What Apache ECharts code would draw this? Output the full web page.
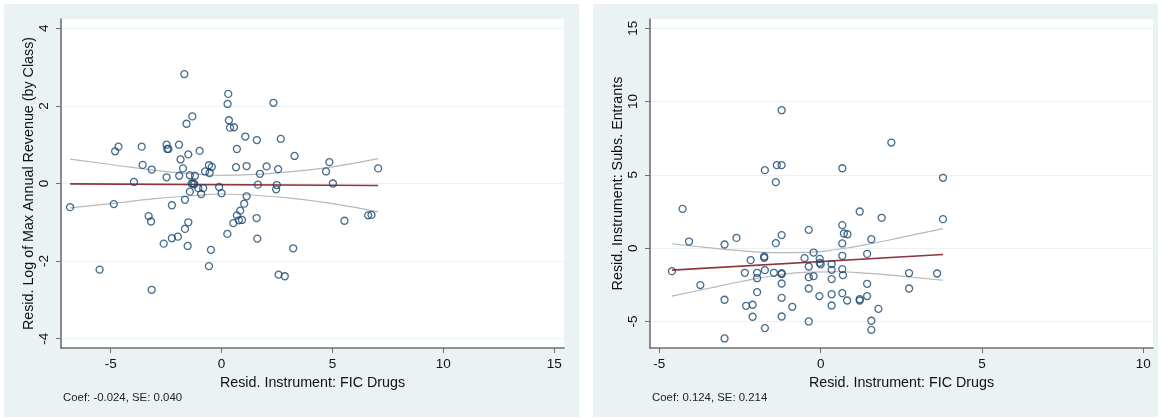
<!DOCTYPE html>
<html>
<head>
<meta charset="utf-8">
<script src="https://cdn.jsdelivr.net/npm/echarts@6/dist/echarts.min.js"></script>
<style>
html,body{margin:0;padding:0;background:#fff;}
#c{width:1161px;height:419px;}
</style>
</head>
<body>
<div id="c"></div>
<script>
// ---------- Left panel data ----------
const leftPoints = [
[-6.83,-0.61],[-1.68,2.82],[0.30,2.31],[0.27,2.05],[2.34,2.08],[-1.32,1.73],[-1.58,1.54],[0.33,1.63],
[0.38,1.44],[0.56,1.45],[1.07,1.21],[1.59,1.12],[2.67,1.15],[-4.65,0.95],[-4.80,0.83],[-3.60,0.95],
[-2.48,1.00],[-2.45,0.89],[-2.40,0.89],[-1.92,1.00],[-0.99,0.84],[-1.50,0.75],[-1.85,0.62],[0.69,0.89],
[3.29,0.71],[-3.56,0.48],[-3.15,0.36],[-1.74,0.39],[-0.57,0.47],[-0.44,0.43],[-0.74,0.31],[-0.54,0.27],
[0.65,0.42],[1.13,0.45],[2.03,0.44],[2.55,0.37],[1.73,0.25],[4.86,0.55],[4.71,0.31],[7.06,0.39],
[-3.95,0.04],[-2.48,0.16],[-1.91,0.20],[-1.43,0.21],[-1.20,0.20],[-1.35,0.00],[-1.28,0.00],[-1.23,-0.02],
[-1.05,-0.12],[-0.83,-0.12],[-1.43,-0.21],[-0.92,-0.27],[-0.11,-0.09],[0.00,-0.25],[1.64,-0.03],[2.49,-0.04],
[2.46,-0.15],[5.02,0.00],[-4.86,-0.53],[-1.65,-0.42],[-2.24,-0.56],[1.13,-0.33],[1.02,-0.52],[0.84,-0.70],
[0.69,-0.82],[0.78,-0.95],[0.92,-0.94],[0.53,-1.02],[1.58,-0.89],[-3.29,-0.84],[-3.18,-0.98],[-1.50,-1.00],
[-1.65,-1.17],[-2.61,-1.55],[-2.24,-1.41],[-1.97,-1.37],[-1.53,-1.61],[-0.48,-1.71],[0.26,-1.30],[1.61,-1.42],
[3.23,-1.67],[5.54,-0.96],[6.61,-0.82],[6.76,-0.81],[-5.50,-2.22],[-0.57,-2.13],[2.57,-2.35],[2.85,-2.39],
[-3.15,-2.74]
];
const leftFitX = [-6.83, 7.06];
const leftFitY = [-0.01, -0.05];
const leftBandX = [-6.83, -5, -3, -1, 0, 1, 3, 5, 7.06];
const leftUpper = [0.63, 0.49, 0.34, 0.24, 0.21, 0.22, 0.30, 0.43, 0.64];
const leftLower = [-0.63, -0.52, -0.39, -0.30, -0.27, -0.29, -0.37, -0.52, -0.73];
const leftXTicks = [-5, 0, 5, 10, 15];
const leftYTicks = [-4, -2, 0, 2, 4];

// ---------- Right panel data ----------
const rightPoints = [
[-1.21,9.41],[2.19,7.20],[-1.36,5.66],[-1.21,5.66],[-1.73,5.32],[0.67,5.45],[3.79,4.80],[-1.39,4.50],
[-4.28,2.68],[1.21,2.50],[1.89,2.07],[3.79,1.98],[-0.37,1.25],[0.67,1.57],[0.72,1.00],[0.83,0.95],
[-1.21,0.89],[-4.08,0.45],[-2.98,0.25],[-2.61,0.70],[-1.39,0.34],[0.67,0.32],[1.57,0.61],[-0.22,-0.30],
[1.44,-0.39],[0.67,-0.52],[-0.50,-0.68],[-2.17,-0.82],[-1.75,-0.57],[-1.75,-0.66],[-0.03,-0.73],[-0.03,-1.00],
[0.00,-1.10],[0.34,-1.09],[0.34,-1.48],[0.67,-1.43],[0.69,-1.84],[-4.61,-1.57],[-2.35,-1.68],[-1.97,-1.68],
[-1.73,-1.50],[-1.97,-2.05],[-1.45,-1.68],[-1.21,-1.70],[-1.21,-1.77],[-0.37,-1.25],[-0.37,-1.98],[-0.22,-1.91],
[0.34,-2.11],[-3.73,-2.52],[-1.21,-2.41],[1.44,-2.43],[2.74,-1.70],[3.61,-1.73],[2.74,-2.75],[-0.37,-2.75],
[-2.98,-3.52],[-1.97,-3.00],[-1.21,-3.39],[-0.04,-3.27],[0.34,-3.14],[0.67,-3.07],[0.82,-3.57],[1.21,-3.48],
[1.21,-3.57],[1.44,-3.27],[-2.31,-3.93],[-2.11,-3.86],[-0.88,-4.00],[0.34,-3.91],[1.79,-4.14],[-2.11,-4.68],
[-1.21,-4.66],[-0.37,-5.00],[1.57,-4.95],[1.57,-5.57],[-1.73,-5.45],[-2.98,-6.16]
];
const rightFitX = [-4.61, 3.79];
const rightFitY = [-1.50, -0.43];
const rightBandX = [-4.61, -3.5, -2.5, -1.5, -0.4, 0.5, 1.5, 2.5, 3.79];
const rightUpper = [0.30, 0.03, -0.17, -0.30, -0.29, -0.09, 0.28, 0.73, 1.33];
const rightLower = [-3.27, -2.75, -2.29, -1.90, -1.63, -1.61, -1.72, -1.91, -2.19];
const rightXTicks = [-5, 0, 5, 10];
const rightYTicks = [-5, 0, 5, 10, 15];

const leftNote = 'Coef: -0.024, SE: 0.040';
const rightNote = 'Coef: 0.124, SE: 0.214';
const xTitle = 'Resid. Instrument: FIC Drugs';
const leftYTitle = 'Resid. Log of Max Annual Revenue (by Class)';
const rightYTitle = 'Resid. Instrument: Subs. Entrants';

// ---------- styles ----------
const FONT = 'Liberation Sans, Arial, Helvetica, sans-serif';
const PANEL = '#eaf2f3';
const AXIS = '#707070';
const NAVY = '#1a476f';
const MAROON = '#90353b';
const GRAYLINE = '#b8b8b8';

function zip(xs, ys){ return xs.map((x,i)=>[x, ys[i]]); }

function xAxisCfg(idx, min, max, ticks){
  return {
    type:'value', gridIndex:idx, min:min, max:max,
    name: xTitle, nameLocation:'middle', nameGap:22,
    nameTextStyle:{fontFamily:FONT, fontSize:14.3, color:'#111'},
    axisLine:{show:true, onZero:false, lineStyle:{color:AXIS, width:1.6}},
    axisTick:{show:true, inside:false, length:5, customValues:ticks, lineStyle:{color:AXIS, width:1}},
    axisLabel:{customValues:ticks, margin:9, fontFamily:FONT, fontSize:13.5, color:'#111'},
    splitLine:{show:false}
  };
}
function yAxisCfg(idx, min, max, ticks, title){
  return {
    type:'value', gridIndex:idx, min:min, max:max,
    name: title, nameLocation:'middle', nameGap:25, nameRotate:90,
    nameTextStyle:{fontFamily:FONT, fontSize:14.3, color:'#111'},
    axisLine:{show:true, onZero:false, lineStyle:{color:AXIS, width:1.6}},
    axisTick:{show:true, inside:false, length:5, customValues:ticks, lineStyle:{color:AXIS, width:1}},
    axisLabel:{customValues:ticks, rotate:90, margin:10, fontFamily:FONT, fontSize:13.5, color:'#111'},
    splitLine:{show:true, lineStyle:{color:PANEL, width:1.2}}
  };
}
function scatter(idx, pts){
  return {type:'scatter', xAxisIndex:idx, yAxisIndex:idx, data:pts, symbol:'circle', symbolSize:7,
    itemStyle:{color:'rgba(0,0,0,0)', borderColor:NAVY, borderWidth:1.3}, z:3};
}
function line(idx, pts, color, width, smooth){
  return {type:'line', xAxisIndex:idx, yAxisIndex:idx, data:pts, showSymbol:false, symbol:'none',
    smooth:smooth, lineStyle:{color:color, width:width}, z:2};
}

const chart = echarts.init(document.getElementById('c'), null, {renderer:'canvas'});
chart.setOption({
  animation:false,
  backgroundColor:'#fff',
  graphic:[
    {type:'rect', shape:{x:4, y:4, width:575, height:413}, style:{fill:PANEL}, z:-10},
    {type:'rect', shape:{x:593, y:4, width:565, height:413}, style:{fill:PANEL}, z:-10},
    {type:'text', left:63, top:392, style:{text:leftNote, font:'11.4px ' + FONT, fill:'#222'}},
    {type:'text', left:652, top:392, style:{text:rightNote, font:'11.4px ' + FONT, fill:'#222'}}
  ],
  grid:[
    {left:61, top:19, width:503, height:329, show:true, backgroundColor:'#fff', borderWidth:0},
    {left:650, top:19, width:503, height:329, show:true, backgroundColor:'#fff', borderWidth:0}
  ],
  xAxis:[
    xAxisCfg(0, -7.24, 15.44, leftXTicks),
    xAxisCfg(1, -5.29, 10.3, rightXTicks)
  ],
  yAxis:[
    yAxisCfg(0, -4.24, 4.24, leftYTicks, leftYTitle),
    yAxisCfg(1, -6.81, 15.63, rightYTicks, rightYTitle)
  ],
  series:[
    scatter(0, leftPoints),
    line(0, zip(leftBandX, leftUpper), GRAYLINE, 1.2, true),
    line(0, zip(leftBandX, leftLower), GRAYLINE, 1.2, true),
    line(0, zip(leftFitX, leftFitY), MAROON, 1.6, false),
    scatter(1, rightPoints),
    line(1, zip(rightBandX, rightUpper), GRAYLINE, 1.2, true),
    line(1, zip(rightBandX, rightLower), GRAYLINE, 1.2, true),
    line(1, zip(rightFitX, rightFitY), MAROON, 1.6, false)
  ]
});
</script>
</body>
</html>
